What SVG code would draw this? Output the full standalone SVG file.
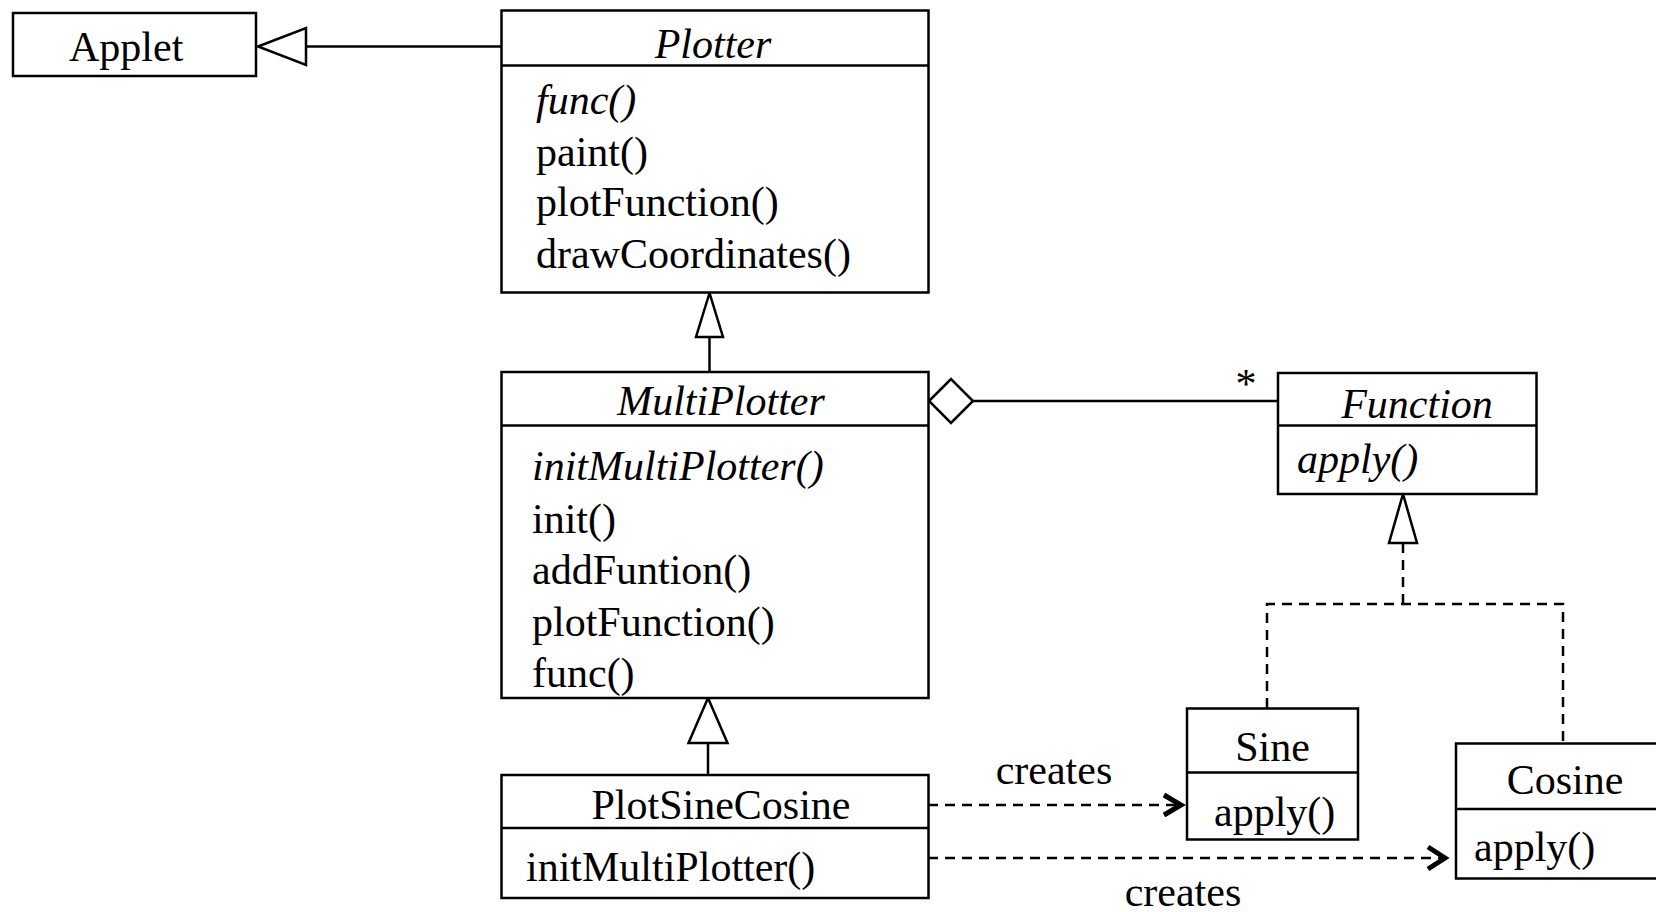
<svg xmlns="http://www.w3.org/2000/svg" width="1656" height="912" viewBox="0 0 1656 912">
<style>
.box{fill:#fff;stroke:#000;stroke-width:2.5}
.div{stroke:#000;stroke-width:2.5}
text{font-family:"Liberation Serif","Times New Roman",serif;font-size:42px;fill:#000}
.it{font-style:italic}
.mid{text-anchor:middle}
.ln{fill:none;stroke:#000;stroke-width:2.5}
.dash{fill:none;stroke:#000;stroke-width:2.5;stroke-dasharray:10 7}
.tri{fill:#fff;stroke:#000;stroke-width:2.5}
.chev{fill:none;stroke:#000;stroke-width:5;stroke-linejoin:miter}
</style>
<rect width="1656" height="912" fill="#fff"/>
<g id="connectors">
  <line class="ln" x1="306" y1="46.5" x2="501" y2="46.5"/>
  <polygon class="tri" points="258,46.5 306,28 306,65"/>
  <line class="ln" x1="709.5" y1="337" x2="709.5" y2="372"/>
  <polygon class="tri" points="709.5,293 696,337 723,337"/>
  <line class="ln" x1="708" y1="743" x2="708" y2="775"/>
  <polygon class="tri" points="708,698 688.5,743 727.5,743"/>
  <line class="ln" x1="973" y1="401" x2="1278" y2="401"/>
  <polygon class="tri" points="929,401 951,379 973,401 951,423"/>
  <text x="1246" y="398" class="mid">*</text>
  <polyline class="dash" points="1267,708 1267,604 1563,604 1563,743"/>
  <line class="dash" x1="1403" y1="604" x2="1403" y2="543"/>
  <polygon class="tri" points="1403,494 1389,543 1417,543"/>
  <line class="dash" x1="928" y1="805" x2="1178" y2="805"/>
  <polyline class="chev" points="1164,795 1181,805 1164,815"/>
  <text x="1054" y="784" class="mid">creates</text>
  <line class="dash" x1="928" y1="858" x2="1442" y2="858"/>
  <polyline class="chev" points="1428,847 1445,858 1428,869"/>
  <text x="1183" y="906" class="mid">creates</text>
</g>
<g id="applet">
  <rect class="box" x="13" y="13" width="243" height="63"/>
  <text x="69" y="61">Applet</text>
</g>
<g id="plotter">
  <rect class="box" x="501.5" y="10.5" width="427" height="282"/>
  <line class="div" x1="501.5" y1="65.5" x2="928.5" y2="65.5"/>
  <text x="713" y="58" class="mid it">Plotter</text>
  <text x="536" y="114" class="it">func()</text>
  <text x="536" y="166">paint()</text>
  <text x="536" y="216">plotFunction()</text>
  <text x="536" y="268">drawCoordinates()</text>
</g>
<g id="multiplotter">
  <rect class="box" x="501.5" y="372" width="427" height="326"/>
  <line class="div" x1="501.5" y1="425.5" x2="928.5" y2="425.5"/>
  <text x="721" y="415" class="mid it">MultiPlotter</text>
  <text x="532" y="480" class="it">initMultiPlotter()</text>
  <text x="532" y="533">init()</text>
  <text x="532" y="584">addFuntion()</text>
  <text x="532" y="636">plotFunction()</text>
  <text x="532" y="687">func()</text>
</g>
<g id="plotsinecosine">
  <rect class="box" x="501.5" y="775" width="427" height="123"/>
  <line class="div" x1="501.5" y1="828" x2="928.5" y2="828"/>
  <text x="721" y="819" class="mid">PlotSineCosine</text>
  <text x="526" y="881">initMultiPlotter()</text>
</g>
<g id="function">
  <rect class="box" x="1278" y="373" width="258.5" height="121"/>
  <line class="div" x1="1278" y1="425.5" x2="1536.5" y2="425.5"/>
  <text x="1417" y="418" class="mid it">Function</text>
  <text x="1297" y="473" class="it">apply()</text>
</g>
<g id="sine">
  <rect class="box" x="1187" y="708.5" width="171" height="131"/>
  <line class="div" x1="1187" y1="772.5" x2="1358" y2="772.5"/>
  <text x="1272.5" y="761" class="mid">Sine</text>
  <text x="1214" y="826">apply()</text>
</g>
<g id="cosine">
  <rect class="box" x="1456" y="743.5" width="220" height="135"/>
  <line class="div" x1="1456" y1="809" x2="1676" y2="809"/>
  <text x="1565" y="794" class="mid">Cosine</text>
  <text x="1474" y="861">apply()</text>
</g>
</svg>
